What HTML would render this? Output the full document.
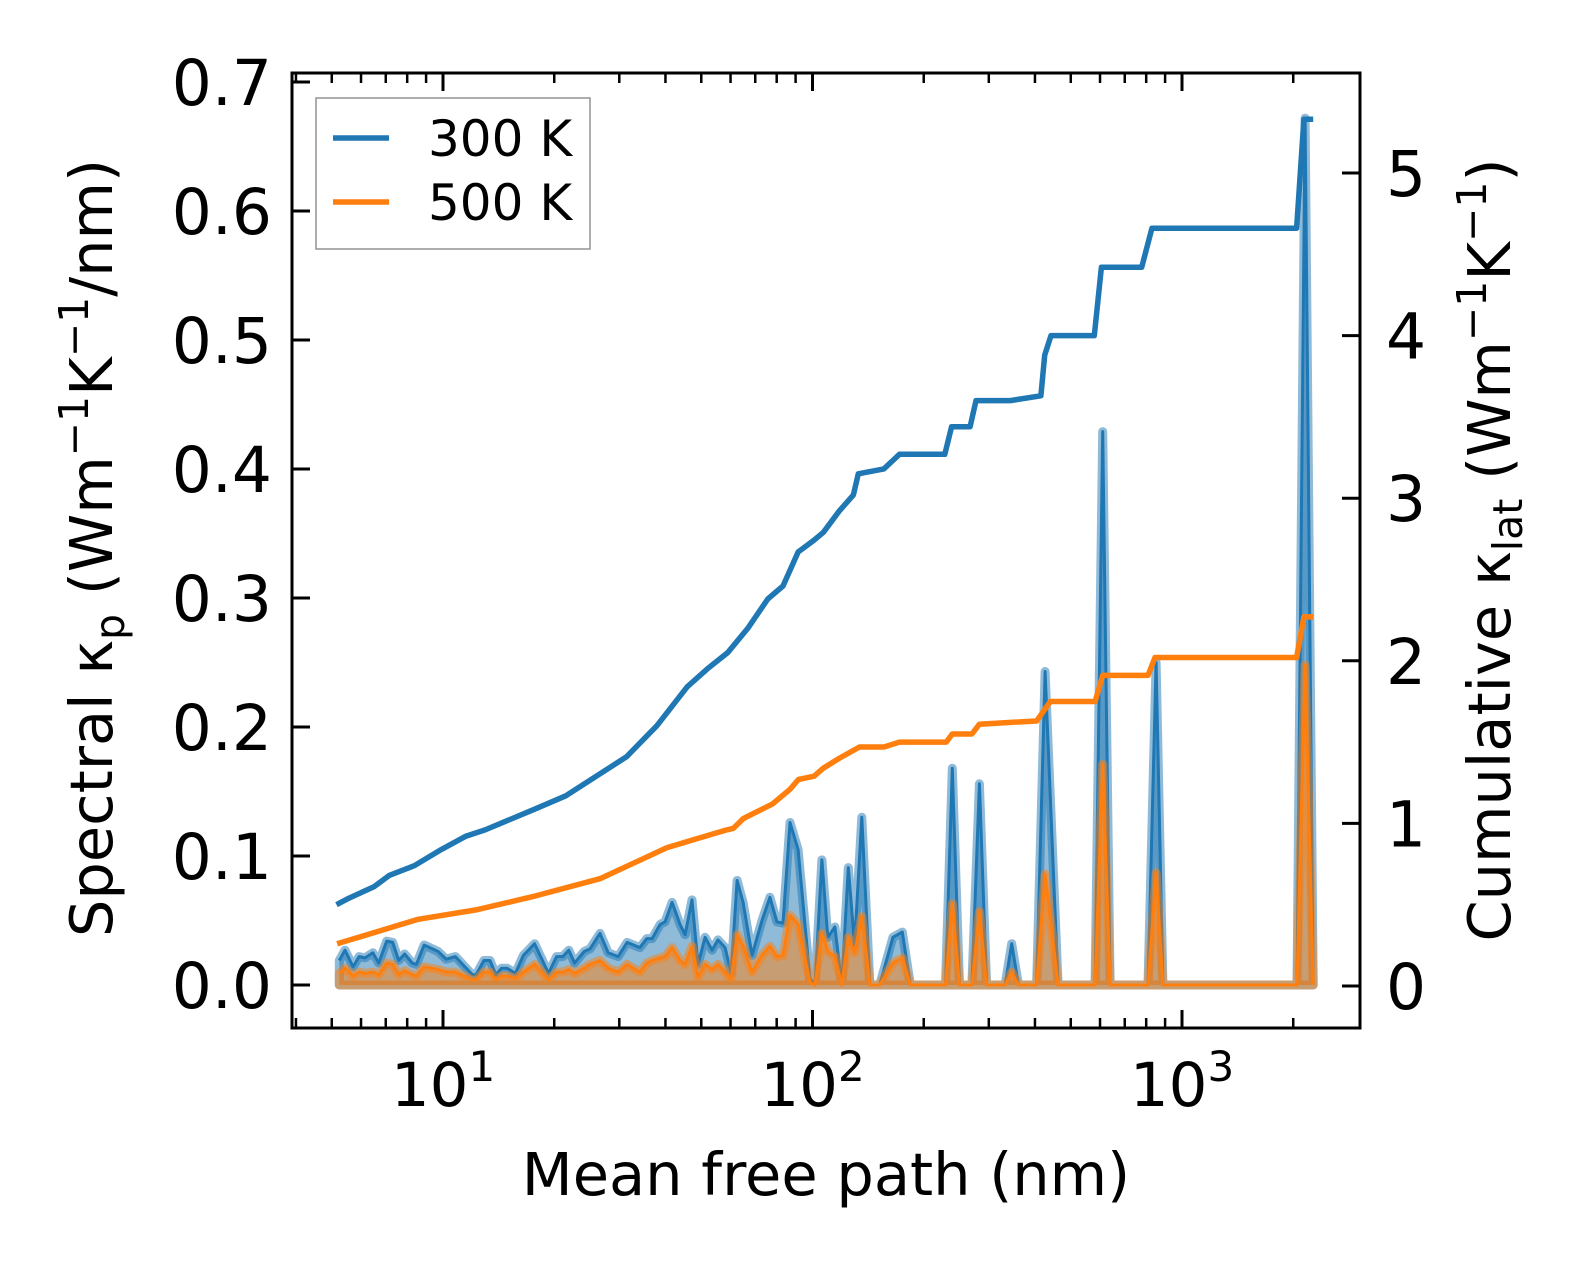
<!DOCTYPE html>
<html><head><meta charset="utf-8"><style>
html,body{margin:0;padding:0;background:#fff}
svg{display:block;font-family:"DejaVu Sans","Liberation Sans",sans-serif}
</style></head><body>
<svg id="chart" width="1586" height="1267" viewBox="0 0 1586 1267" xmlns="http://www.w3.org/2000/svg">
<defs><clipPath id="pc"><rect x="292" y="73" width="1068" height="955"/></clipPath></defs>
<rect x="0" y="0" width="1586" height="1267" fill="#fff"/>
<g id="spec" clip-path="url(#pc)"></g>
<g id="cum" clip-path="url(#pc)"></g>
<g id="axes"></g>
<g>
  <rect x="316" y="98" width="274" height="151" fill="#fff" fill-opacity="0.8" stroke="#999" stroke-width="1.6"/>
  <line x1="333" y1="138" x2="389" y2="138" stroke="#1f77b4" stroke-width="5.5"/>
  <text x="428" y="156" font-size="50">300 K</text>
  <line x1="333" y1="202" x2="389" y2="202" stroke="#ff7f0e" stroke-width="5.5"/>
  <text x="428" y="220" font-size="50">500 K</text>
</g>
<text x="826" y="1195" font-size="59" text-anchor="middle">Mean free path (nm)</text>
<text transform="translate(112,548) rotate(-90)" font-size="59" text-anchor="middle">Spectral κ<tspan font-size="41" dy="12">p</tspan><tspan dy="-12"> (Wm</tspan><tspan font-size="41" dy="-24">−1</tspan><tspan dy="24">K</tspan><tspan font-size="41" dy="-24">−1</tspan><tspan dy="24">/nm)</tspan></text>
<text transform="translate(1510,550) rotate(-90)" font-size="59" text-anchor="middle">Cumulative κ<tspan font-size="41" dy="12">lat</tspan><tspan dy="-12"> (Wm</tspan><tspan font-size="41" dy="-24">−1</tspan><tspan dy="24">K</tspan><tspan font-size="41" dy="-24">−1</tspan><tspan dy="24">)</tspan></text>
</svg>
<script>
// spectral data
const specMfp = [5.24,5.43,5.71,5.93,6.15,6.46,6.70,7.04,7.31,7.59,7.87,8.26,8.47,8.89,9.70,10.2,10.8,12.0,12.3,12.9,13.4,13.9,14.4,14.9,15.7,16.5,16.9,17.7,19.3,20.3,21.1,21.9,22.7,24.1,25.0,26.6,28.0,29.8,31.5,34.1,35.6,36.8,38.7,39.9,41.7,43.8,45.2,47.2,49.0,51.2,53.5,55.5,58.0,60.2,62.5,64.9,68.6,73.0,76.7,80.1,83.2,86.9,91.4,98.4,101.6,106,110,115,120,125,130,136,143,152,165,175,184,229,239,250,270,283,296,332,346,361,404,426,462,582,610,639,809,851,888,2047,2153,2265];
const spec300 = [.019,.027,.014,.022,.021,.025,.017,.034,.033,.019,.024,.017,.016,.031,.026,.020,.022,.008,.008,.019,.019,.008,.013,.013,.009,.023,.026,.032,.009,.022,.022,.027,.017,.026,.028,.040,.025,.022,.033,.029,.036,.036,.047,.049,.064,.047,.039,.066,.016,.037,.027,.035,.029,.009,.081,.064,.023,.050,.068,.049,.048,.126,.105,.005,0,.097,.037,.045,0,.091,.031,.130,0,0,.037,.041,0,0,.168,0,0,.156,0,0,.032,0,0,.243,0,0,.429,0,0,.250,0,0,.672,0];
const spec500 = [.009,.013,.007,.010,.009,.010,.008,.017,.016,.008,.011,.008,.007,.014,.012,.010,.010,.004,.004,.010,.010,.004,.007,.007,.005,.010,.012,.016,.004,.010,.010,.012,.009,.013,.016,.019,.013,.010,.016,.010,.017,.019,.021,.022,.029,.019,.016,.030,.006,.016,.012,.016,.010,.004,.039,.030,.010,.023,.030,.022,.023,.054,.047,.002,0,.040,.026,.022,0,.037,.025,.053,0,0,.017,.021,0,0,.063,0,0,.057,0,0,.010,0,0,.086,0,0,.171,0,0,.087,0,0,.248,0];
// cumulative data
const cum300Mfp = [5.15,5.56,6.50,7.15,8.36,9.91,11.5,13.0,17.8,21.5,26.0,31.4,37.9,45.8,51.9,58.9,66.8,75.7,83.2,91.5,100.7,107,118,129,133,156,172,228,238,267,277,343,415,425,442,579,605,778,829,2042,2138,2265];
const cum300 = [0.50,0.54,0.61,0.68,0.74,0.84,0.92,0.96,1.09,1.17,1.29,1.41,1.60,1.84,1.95,2.05,2.20,2.38,2.46,2.67,2.74,2.79,2.92,3.02,3.15,3.18,3.27,3.27,3.44,3.44,3.60,3.60,3.63,3.88,4.00,4.00,4.42,4.42,4.66,4.66,5.33,5.33];
const cum500Mfp = [5.17,8.57,12.4,17.5,26.6,40.3,47.6,58.6,61.1,65,78,86.9,91.6,101,107,118,134,156,172,230,239,270,283,335,404,440,582,610,809,845,2042,2138,2265];
const cum500 = [0.26,0.41,0.47,0.55,0.66,0.85,0.90,0.96,0.97,1.03,1.12,1.21,1.27,1.29,1.34,1.40,1.47,1.47,1.50,1.50,1.55,1.55,1.61,1.62,1.63,1.75,1.75,1.91,1.91,2.02,2.02,2.27,2.27];
// ticks
const leftTicks = [0,0.1,0.2,0.3,0.4,0.5,0.6,0.7];
const leftTickLabels = ["0.0","0.1","0.2","0.3","0.4","0.5","0.6","0.7"];
const rightTicks = [0,1,2,3,4,5];
const rightTickLabels = ["0","1","2","3","4","5"];
const xMajor = [10,100,1000];
const xMajorExp = ["1","2","3"];
const xMinor = [4,5,6,7,8,9,20,30,40,50,60,70,80,90,200,300,400,500,600,700,800,900,2000];

const NS = "http://www.w3.org/2000/svg";
const L = 292, R = 1360, T = 73, B = 1028;
function xS(v){ return 443 + (Math.log10(v) - 1) * 369.5; }
function yL(v){ return 985 - v * 1290; }
function yR(v){ return 986 - v * 162.6; }
function mk(tag, attrs, parent){
  const e = document.createElementNS(NS, tag);
  for (const k in attrs) e.setAttribute(k, attrs[k]);
  parent.appendChild(e);
  return e;
}
const spec = document.getElementById('spec');
const cum = document.getElementById('cum');
const axes = document.getElementById('axes');

function specSeries(vals, color, rgb, name){
  let top = specMfp.map((m,i)=>xS(m).toFixed(1)+','+yL(vals[i]).toFixed(1));
  const poly = 'M'+xS(specMfp[0]).toFixed(1)+','+yL(0)+' L'+top.join(' L')+' L'+xS(specMfp[specMfp.length-1]).toFixed(1)+','+yL(0)+' Z';
  const f = mk('path', {d: poly, fill: 'rgba('+rgb+',0.5)', stroke: 'rgba('+rgb+',0.5)', 'stroke-width': 9, 'stroke-linejoin':'round'}, spec);
  
  
  const l = mk('polyline', {points: top.join(' '), fill: 'none', stroke: color, 'stroke-width': 3, 'stroke-linejoin':'round'}, spec);
  
  
}
specSeries(spec300, '#1f77b4', '31,119,180', 'spectral-300k');
specSeries(spec500, '#ff7f0e', '255,127,14', 'spectral-500k');

function cumSeries(ms, vals, color, name){
  const pts = ms.map((m,i)=>xS(m).toFixed(1)+','+yR(vals[i]).toFixed(1)).join(' ');
  const l = mk('polyline', {points: pts, fill: 'none', stroke: color, 'stroke-width': 5.5, 'stroke-linejoin':'round'}, cum);
  
  
}
cumSeries(cum300Mfp, cum300, '#1f77b4', 'cumulative-300k');
cumSeries(cum500Mfp, cum500, '#ff7f0e', 'cumulative-500k');

// frame
const fr = mk('rect', {x:L, y:T, width:R-L, height:B-T, fill:'none', stroke:'#000', 'stroke-width':3}, axes);



leftTicks.forEach((v,i)=>{
  const y = yL(v);
  const t = mk('line', {x1:L, y1:y, x2:L+18, y2:y, stroke:'#000', 'stroke-width':3}, axes);
  
  
  const tx = mk('text', {x:L-20, y:y+23, 'font-size':63, 'text-anchor':'end'}, axes);
  tx.textContent = leftTickLabels[i];
  
  
});
rightTicks.forEach((v,i)=>{
  const y = yR(v);
  const t = mk('line', {x1:R, y1:y, x2:R-18, y2:y, stroke:'#000', 'stroke-width':3}, axes);
  
  
  const tx = mk('text', {x:R+26, y:y+23, 'font-size':63}, axes);
  tx.textContent = rightTickLabels[i];
  
  
});
xMajor.forEach((v,i)=>{
  const x = xS(v);
  [[B,B-18],[T,T+18]].forEach(p=>{
    const t = mk('line', {x1:x, y1:p[0], x2:x, y2:p[1], stroke:'#000', 'stroke-width':3}, axes);
    
    
  });
  const tx = mk('text', {x:x, y:1106, 'font-size':61, 'text-anchor':'middle'}, axes);
  
  
  tx.appendChild(document.createTextNode('10'));
  const s = mk('tspan', {'font-size':42, dy:-25}, tx);
  s.textContent = xMajorExp[i];
});
xMinor.forEach(v=>{
  const x = xS(v);
  [[B,B-10],[T,T+10]].forEach(p=>{
    const t = mk('line', {x1:x, y1:p[0], x2:x, y2:p[1], stroke:'#000', 'stroke-width':2.5}, axes);
    
    
  });
});
</script>
</body></html>
